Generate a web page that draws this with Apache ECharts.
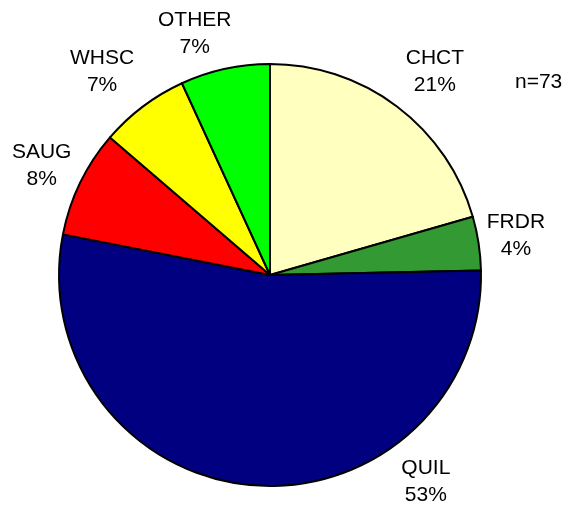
<!DOCTYPE html>
<html>
<head>
<meta charset="utf-8">
<script src="https://cdn.jsdelivr.net/npm/echarts@6/dist/echarts.min.js"></script>
<style>
  html, body { margin: 0; padding: 0; background: #fff; }
  #main { width: 563px; height: 509px; }
</style>
</head>
<body>
<div id="main"></div>
<script>
// counts per group, n = 73
var groups = ['CHCT', 'FRDR', 'QUIL', 'SAUG', 'WHSC', 'OTHER'];
var counts = [15, 3, 39, 6, 5, 5];
var colors = ['#ffffc0', '#339933', '#000080', '#ff0000', '#ffff00', '#00ff00'];
var total = 73;

var cx = 270, cy = 275, radius = 211;
// where each label sits: angle clockwise from top (deg), distance from centre (px)
var labelAngle = [39, 81, 143, 295.5, 320.5, 342.7];
var labelDist = [262, 249, 259, 253, 264, 253];

var data = [];
for (var i = 0; i < groups.length; i++) {
    data.push({ name: groups[i], value: counts[i], itemStyle: { color: colors[i] } });
}

var myChart = echarts.init(document.getElementById('main'));
var option = {
    animation: false,
    backgroundColor: '#fff',
    title: {
        text: 'n=' + total,
        left: 510,
        top: 67,
        textStyle: { fontFamily: 'Liberation Sans', fontSize: 21, fontWeight: 'normal', color: '#000' }
    },
    series: [{
        type: 'pie',
        center: [cx, cy],
        radius: radius,
        startAngle: 90,
        clockwise: true,
        avoidLabelOverlap: false,
        data: data,
        itemStyle: { borderColor: '#000', borderWidth: 2 },
        emphasis: { disabled: true },
        label: {
            show: true,
            position: 'outside',
            distanceToLabelLine: 0,
            fontFamily: 'Liberation Sans',
            fontSize: 21,
            lineHeight: 27,
            color: '#000',
            formatter: function (p) {
                return p.name + '\n' + Math.round(p.percent) + '%';
            }
        },
        labelLine: { show: false },
        labelLayout: function (p) {
            var a = labelAngle[p.dataIndex] * Math.PI / 180;
            var d = labelDist[p.dataIndex];
            return {
                x: cx + d * Math.sin(a),
                y: cy - d * Math.cos(a),
                align: 'center',
                verticalAlign: 'middle'
            };
        }
    }]
};
myChart.setOption(option);
</script>
</body>
</html>
